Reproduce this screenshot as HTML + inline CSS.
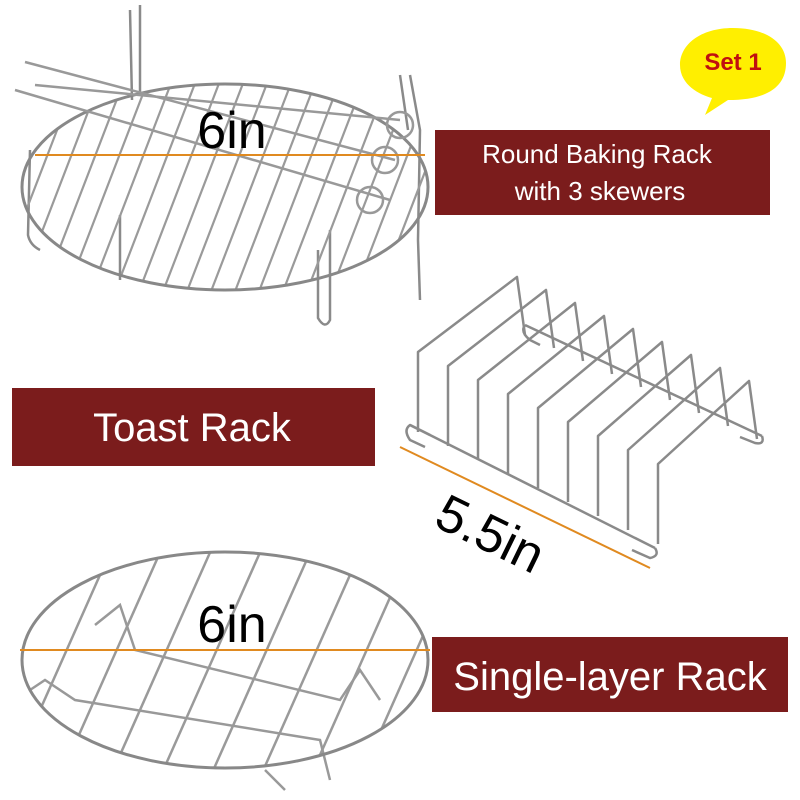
<!DOCTYPE html>
<html><head><meta charset="utf-8"><style>
html,body{margin:0;padding:0;background:#fff;}
svg{display:block;}
text{font-family:"Liberation Sans",sans-serif;}
</style></head><body>
<svg width="800" height="800" viewBox="0 0 800 800" xmlns="http://www.w3.org/2000/svg">
<defs>
<clipPath id="c1"><ellipse cx="225" cy="187" rx="203" ry="103"/></clipPath>
<clipPath id="c2"><ellipse cx="225" cy="660" rx="203" ry="108"/></clipPath>
</defs>
<g stroke="#8a8a8a" stroke-width="2.5" fill="none">
<path d="M30 150 L28 235 Q30 245 40 250" />
<path d="M140 5 L140 95 M130 10 L132 100"/>
<path d="M410 75 L420 130 L418 240 L420 300 M400 75 L408 130"/>
<path d="M330 230 L330 320 Q325 330 318 318 L318 250"/>
<path d="M120 215 L120 280"/>
</g>
<g clip-path="url(#c1)" stroke="#9a9a9a" stroke-width="2.2">
<line x1="60" y1="60" x2="-40" y2="320"/><line x1="84" y1="60" x2="-16" y2="320"/><line x1="108" y1="60" x2="8" y2="320"/><line x1="132" y1="60" x2="32" y2="320"/><line x1="156" y1="60" x2="56" y2="320"/><line x1="180" y1="60" x2="80" y2="320"/><line x1="204" y1="60" x2="104" y2="320"/><line x1="228" y1="60" x2="128" y2="320"/><line x1="252" y1="60" x2="152" y2="320"/><line x1="276" y1="60" x2="176" y2="320"/><line x1="300" y1="60" x2="200" y2="320"/><line x1="324" y1="60" x2="224" y2="320"/><line x1="348" y1="60" x2="248" y2="320"/><line x1="372" y1="60" x2="272" y2="320"/><line x1="396" y1="60" x2="296" y2="320"/><line x1="420" y1="60" x2="320" y2="320"/><line x1="444" y1="60" x2="344" y2="320"/><line x1="468" y1="60" x2="368" y2="320"/><line x1="492" y1="60" x2="392" y2="320"/>
</g>
<ellipse cx="225" cy="187" rx="203" ry="103" fill="none" stroke="#888" stroke-width="3"/>
<g stroke="#999" stroke-width="2.5" fill="none">
<line x1="35" y1="85" x2="400" y2="120"/>
<line x1="25" y1="62" x2="395" y2="160"/>
<line x1="15" y1="90" x2="390" y2="200"/>
<circle cx="400" cy="125" r="13"/><circle cx="385" cy="160" r="13"/><circle cx="370" cy="200" r="13"/>
</g>
<line x1="35" y1="155" x2="425" y2="155" stroke="#e08a20" stroke-width="2"/>
<text x="232" y="148" font-size="52" text-anchor="middle" fill="#000">6in</text>
<rect x="435" y="130" width="335" height="85" fill="#7b1c1c"/>
<text x="597" y="163" font-size="26" fill="#fff" text-anchor="middle">Round Baking Rack</text>
<text x="600" y="200" font-size="26" fill="#fff" text-anchor="middle">with 3 skewers</text>
<path d="M733 28 C700 28 680 45 680 65 C680 85 700 95 712 98 L705 115 L728 100 C770 100 786 85 786 63 C786 42 765 28 733 28Z" fill="#ffef00"/>
<text x="733" y="70" font-size="24" font-weight="bold" fill="#c01010" text-anchor="middle">Set 1</text>
<rect x="12" y="388" width="363" height="78" fill="#7b1c1c"/>
<text x="192" y="441" font-size="40" fill="#fff" text-anchor="middle">Toast Rack</text>
<rect x="432" y="637" width="356" height="75" fill="#7b1c1c"/>
<text x="610" y="690" font-size="40" fill="#fff" text-anchor="middle">Single-layer Rack</text>
<g stroke="#8a8a8a" stroke-width="2.5" fill="none" stroke-linejoin="round">
<path d="M430 435 L410 425 Q403 430 410 440 L425 447"/>
<line x1="410" y1="425" x2="655" y2="548"/>
<path d="M655 548 Q660 556 650 558 L632 550"/>
<line x1="525" y1="325" x2="762" y2="436"/>
<path d="M525 325 Q520 332 530 340 L540 345 M762 436 Q765 445 755 443 L740 437"/>
<polyline points="418,432 418,352 517,277 525,335"/>
<polyline points="448,446 448,366 546,290 554,348"/>
<polyline points="478,460 478,380 575,303 583,361"/>
<polyline points="508,474 508,394 604,316 612,374"/>
<polyline points="538,488 538,408 633,329 641,387"/>
<polyline points="568,502 568,422 662,342 670,400"/>
<polyline points="598,516 598,436 691,355 699,413"/>
<polyline points="628,530 628,450 720,368 728,426"/>
<polyline points="658,544 658,464 749,381 757,439"/>
</g>
<line x1="400" y1="447" x2="650" y2="568" stroke="#e08a20" stroke-width="2"/>
<text x="0" y="0" font-size="52" fill="#000" transform="translate(432,525) rotate(26)">5.5in</text>
<g clip-path="url(#c2)" stroke="#9a9a9a" stroke-width="2.5">
<line x1="120" y1="530" x2="0" y2="800"/><line x1="170" y1="530" x2="50" y2="800"/><line x1="220" y1="530" x2="100" y2="800"/><line x1="270" y1="530" x2="150" y2="800"/><line x1="320" y1="530" x2="200" y2="800"/><line x1="370" y1="530" x2="250" y2="800"/><line x1="420" y1="530" x2="300" y2="800"/><line x1="470" y1="530" x2="350" y2="800"/><line x1="520" y1="530" x2="400" y2="800"/>
</g>
<g stroke="#999" stroke-width="2.5" fill="none">
<path d="M95 625 L120 605 L135 650 L340 700 L360 670 L380 700"/>
<path d="M30 690 L45 680 L75 700 L320 740 L330 780"/>
<path d="M265 770 L285 790"/>
</g>
<ellipse cx="225" cy="660" rx="203" ry="108" fill="none" stroke="#888" stroke-width="3"/>
<line x1="20" y1="650" x2="430" y2="650" stroke="#e08a20" stroke-width="2"/>
<text x="232" y="642" font-size="52" text-anchor="middle" fill="#000">6in</text>
</svg>
</body></html>
